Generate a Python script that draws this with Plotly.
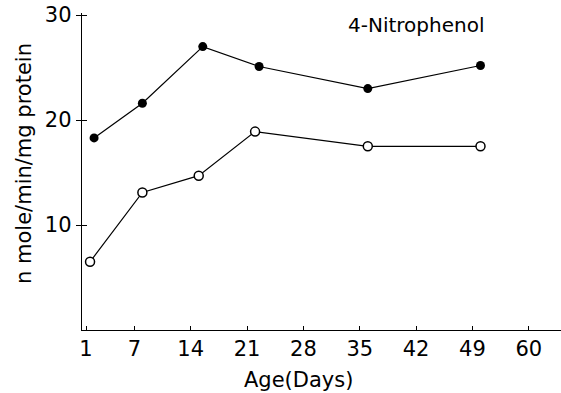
import plotly.graph_objects as go

# Data
filled_days = [2, 8, 15.5, 22.5, 36, 50]
filled_vals = [18.3, 21.6, 27.0, 25.1, 23.0, 25.2]
open_days = [1.5, 8, 15, 22, 36, 50]
open_vals = [6.5, 13.1, 14.7, 18.9, 17.5, 17.5]

x_tickvals = [1, 7, 14, 21, 28, 35, 42, 49, 56]
x_ticktext = ["1", "7", "14", "21", "28", "35", "42", "49", "60"]
y_tickvals = [10, 20, 30]

FONT = "DejaVu Sans, Liberation Sans, Arial, sans-serif"

fig = go.Figure()
fig.add_trace(go.Scatter(
    x=filled_days, y=filled_vals, mode="lines+markers",
    line=dict(color="black", width=1.2),
    marker=dict(symbol="circle", size=9, color="black"),
    showlegend=False,
))
fig.add_trace(go.Scatter(
    x=open_days, y=open_vals, mode="lines+markers",
    line=dict(color="black", width=1.2),
    marker=dict(symbol="circle", size=9, color="white",
                line=dict(color="black", width=1.5)),
    showlegend=False,
))

fig.add_annotation(
    x=0.697, y=0.962, xref="paper", yref="paper",
    text="4-Nitrophenol", showarrow=False,
    font=dict(family=FONT, size=20, color="black"),
    xanchor="center", yanchor="middle",
)
fig.add_annotation(
    x=0.451, y=-0.158, xref="paper", yref="paper",
    text="Age(Days)", showarrow=False,
    font=dict(family=FONT, size=21, color="black"),
    xanchor="center", yanchor="middle",
)
fig.add_annotation(
    x=-0.121, y=0.524, xref="paper", yref="paper",
    text="n mole/min/mg protein", showarrow=False, textangle=-90,
    font=dict(family=FONT, size=21, color="black"),
    xanchor="center", yanchor="middle",
)

fig.update_layout(
    width=561, height=393,
    margin=dict(l=82, r=0, t=13, b=63),
    paper_bgcolor="white", plot_bgcolor="white",
    font=dict(family=FONT, color="black"),
    yaxis2=dict(
        overlaying="y", side="left", range=[0, 30.2], tickvals=y_tickvals,
        showticklabels=False, showgrid=False, zeroline=False, showline=False,
        ticks="inside", ticklen=5, tickcolor="black", tickwidth=1,
    ),
)
fig.update_xaxes(
    range=[0.5, 60], tickvals=x_tickvals, ticktext=x_ticktext,
    showgrid=False, zeroline=False, showline=True, linecolor="black", linewidth=1.4,
    ticks="inside", ticklen=4, tickcolor="black",
    tickfont=dict(family=FONT, size=21, color="black"),
)
fig.update_yaxes(
    selector=dict(overlaying=None),
    range=[0, 30.2], tickvals=y_tickvals,
    showgrid=False, zeroline=False, showline=True, linecolor="black", linewidth=1.4,
    ticks="outside", ticklen=5, tickcolor="black",
    tickfont=dict(family=FONT, size=21, color="black"),
)
# invisible helper trace so the overlaying tick axis is drawn
fig.add_trace(go.Scatter(x=[None], y=[None], yaxis="y2", showlegend=False, hoverinfo="skip"))

fig.write_html("out.html")
